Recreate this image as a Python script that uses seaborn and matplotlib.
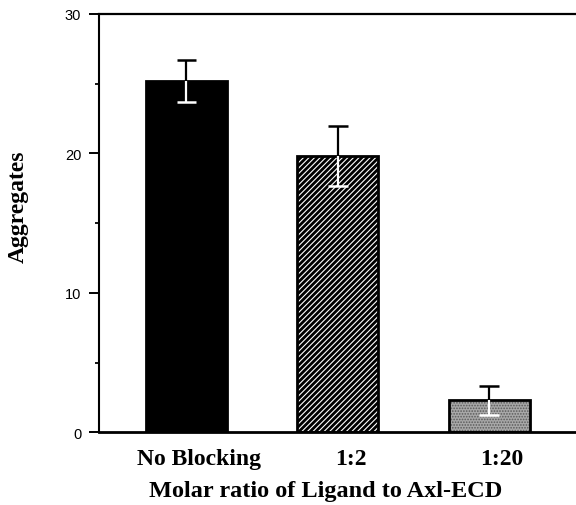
import matplotlib
matplotlib.use("Agg")
import matplotlib.pyplot as plt
import matplotlib.transforms as mtransforms
import seaborn as sns
import pandas as pd

# values
groups = ["No Blocking", "1:2", "1:20"]
aggregates = [25.2, 19.8, 2.3]
sem = [1.5, 2.15, 1.05]

df = pd.DataFrame({"group": groups, "aggregates": aggregates})

sns.set_style("ticks", rc={"axes.edgecolor": "black", "xtick.color": "black",
                           "ytick.color": "black", "text.color": "black",
                           "axes.labelcolor": "black"})
plt.rcParams["hatch.linewidth"] = 0.8

fig = plt.figure(figsize=(5.76, 5.06), dpi=100)
ax = fig.add_axes([0.1724, 0.1437, 0.8276, 0.8267])

sns.barplot(data=df, x="group", y="aggregates", color="black", width=0.535,
            edgecolor="black", linewidth=2, ax=ax)

bars = ax.patches
# 1:2 -> black with thin white diagonal hatch
bars[1].set_facecolor("black")
bars[1].set_edgecolor("white")
bars[1].set_hatch("//////")
bars[1].set_linewidth(0)
# 1:20 -> grey stipple
bars[2].set_facecolor("#a8a8a8")
bars[2].set_edgecolor("#5a5a5a")
bars[2].set_hatch("......")
bars[2].set_linewidth(0)
# black outlines over the patterned bars
ax.bar(range(1, 3), aggregates[1:], width=0.535, fill=False, edgecolor="black",
       linewidth=2, zorder=3)

# error bars: black above bar top (cap on top), white inside bar (cap at bottom)
xs = list(range(len(groups)))
upper = [m + e for m, e in zip(aggregates, sem)]
lower = [m - e for m, e in zip(aggregates, sem)]
cap = 0.065
ax.vlines(xs, aggregates, upper, color="black", lw=1.6, zorder=4)
ax.hlines(upper, [x - cap for x in xs], [x + cap for x in xs], color="black", lw=1.8, zorder=4)
ax.vlines(xs, lower, aggregates, color="white", lw=1.6, zorder=4)
ax.hlines(lower, [x - cap for x in xs], [x + cap for x in xs], color="white", lw=1.8, zorder=4)

ax.set_xlim(-0.575, 2.574)
ax.set_ylim(0, 30)
ax.set_yticks([0, 10, 20, 30])
ax.set_yticks([5, 15, 25], minor=True)
ax.tick_params(axis="y", which="major", length=7, width=1.4, labelsize=10.5, pad=6)
ax.tick_params(axis="y", which="minor", length=3, width=1.3)
ax.tick_params(axis="x", length=0, pad=11)
shift = mtransforms.ScaledTranslation(0.13, 0, fig.dpi_scale_trans)
for lab in ax.get_yticklabels():
    lab.set_family("Liberation Sans")
for lab in ax.get_xticklabels():
    lab.set_family("Liberation Serif")
    lab.set_fontweight("bold")
    lab.set_fontsize(17)
    lab.set_transform(lab.get_transform() + shift)

ax.set_xlabel("Molar ratio of Ligand to Axl-ECD", family="Liberation Serif",
              fontweight="bold", fontsize=17.5)
ax.xaxis.set_label_coords(0.4756, -0.115)
ax.set_ylabel("Aggregates", family="Liberation Serif", fontweight="bold",
              fontsize=17)
ax.yaxis.set_label_coords(-0.147, 0.541)

ax.spines["right"].set_visible(False)
ax.spines["left"].set_linewidth(1.5)
ax.spines["top"].set_linewidth(1.6)
ax.spines["bottom"].set_linewidth(2)

fig.savefig("out.png", dpi=100)
